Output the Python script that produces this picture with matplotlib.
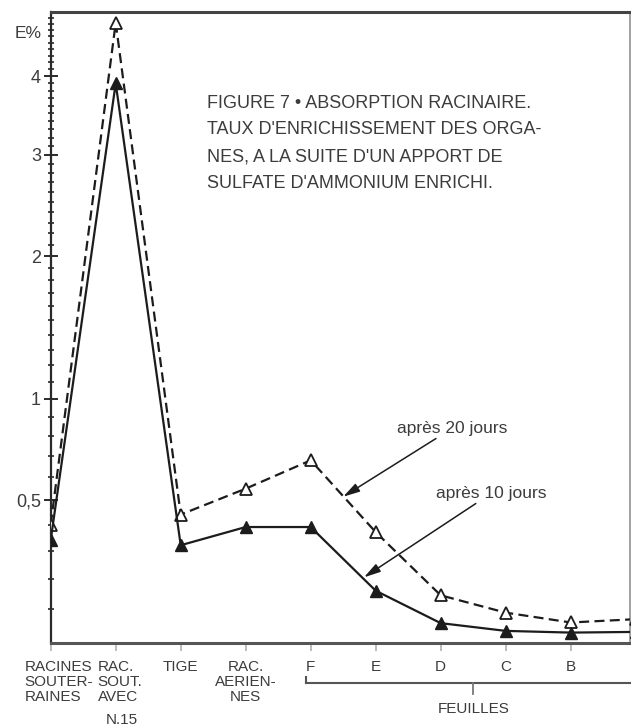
import numpy as np
import matplotlib
matplotlib.use("Agg")
import matplotlib.pyplot as plt
from matplotlib.transforms import blended_transform_factory

plt.rcParams['font.family'] = ['Liberation Sans', 'DejaVu Sans']

# ---- data ----
categories = ["RACINES\nSOUTER-\nRAINES", "RAC.\nSOUT.\nAVEC", "TIGE", "RAC.\nAERIEN-\nNES",
              "F", "E", "D", "C", "B", "A"]
jours20 = [0.40, 4.82, 0.44, 0.55, 0.68, 0.37, 0.145, 0.09, 0.06, 0.07]
jours10 = [0.34, 3.90, 0.32, 0.39, 0.39, 0.16, 0.058, 0.035, 0.03, 0.032]
ytick_vals = [0.5, 1, 2, 3, 4]
ytick_labels = ["0,5", "1", "2", "3", "4"]
title_lines = ["FIGURE 7 \u2022 ABSORPTION RACINAIRE.",
               "TAUX D'ENRICHISSEMENT DES ORGA-",
               "NES, A LA SUITE D'UN APPORT DE",
               "SULFATE D'AMMONIUM ENRICHI."]
label20 = "après 20 jours"
label10 = "après 10 jours"
group_label = "FEUILLES"

W, H = 631, 727
TXT = '#3c3c3c'
LN = '#1c1c1c'

fig = plt.figure(figsize=(W / 100, H / 100), dpi=100)
x0, x1, ytop, ybot = 50.7, 630, 12, 643
ax = fig.add_axes([x0 / W, (H - ybot) / H, (x1 - x0) / W, (ybot - ytop) / H])

ax.set_yscale('function', functions=(lambda v: np.log1p(np.maximum(v, -0.99)),
                                      lambda t: np.expm1(t)))
ax.set_ylim(0, 5.0)
step = 65.0
ax.set_xlim(0, (x1 - x0) / step)

x = np.arange(len(categories))
ax.plot(x, jours20, color=LN, lw=1.6, dashes=(4.5, 2.4), marker='^', ms=8,
        mfc='white', mec=LN, mew=1.3, clip_on=True, zorder=3)
ax.plot(x, jours10, color=LN, lw=1.6, ls='-', marker='^', ms=8,
        mfc=LN, mec=LN, clip_on=True, zorder=3)

# spines
ax.spines['left'].set_color('#2a2a2a')
ax.spines['left'].set_linewidth(1.6)
ax.spines['bottom'].set_linewidth(2.2)
ax.spines['bottom'].set_color('#555555')
ax.spines['top'].set_linewidth(2.2)
ax.spines['top'].set_color('#444444')
ax.spines['right'].set_color('#9a9a9a')
ax.spines['right'].set_linewidth(1.3)

# y ticks
ax.set_yticks(ytick_vals)
ax.set_yticklabels(ytick_labels)
minor = [round(v, 1) for v in np.arange(0.1, 5.0, 0.1) if round(v, 1) not in ytick_vals]
ax.set_yticks(minor, minor=True)
ax.tick_params(axis='y', which='major', direction='inout', length=10, width=1.4,
               colors='#2a2a2a', labelsize=13, labelcolor=TXT, pad=2)
ax.tick_params(axis='y', which='minor', direction='inout', length=5, width=1.2, colors='#2a2a2a')

# x ticks
ax.set_xticks(x[:9])
ax.set_xticklabels([])
ax.tick_params(axis='x', which='major', direction='out', length=6, width=1.2, colors='#b0b0b0')
ax.tick_params(axis='x', which='minor', bottom=False)

def ay(py):
    return (ybot - py) / (ybot - ytop)

bt = blended_transform_factory(ax.transData, ax.transAxes)

# E% label
fig.text(28 / W, 1 - 33 / H, "E%", fontsize=12.5, color=TXT, ha='center', va='center')

# category labels
fs = 11
ls = 1.1
ax.text(0 - 0.40, ay(660), categories[0], transform=bt, ha='left', va='top', fontsize=fs,
        color=TXT, linespacing=ls, clip_on=False)
ax.text(1 - 0.28, ay(660), categories[1], transform=bt, ha='left', va='top', fontsize=fs,
        color=TXT, linespacing=ls, clip_on=False)
ax.text(1.1, ay(720), "N.15", transform=bt, ha='center', va='center', fontsize=fs,
        color=TXT, clip_on=False)
ax.text(2, ay(660), categories[2], transform=bt, ha='center', va='top', fontsize=fs,
        color=TXT, clip_on=False)
ax.text(3, ay(660), categories[3], transform=bt, ha='center', va='top', fontsize=fs,
        color=TXT, linespacing=ls, multialignment='center', clip_on=False)
for i in range(4, 10):
    ax.text(i, ay(667), categories[i], transform=bt, ha='center', va='center',
            fontsize=fs, color=TXT, clip_on=False)

# bracket for leaves
ax.plot([3.92, 9.5], [ay(683), ay(683)], transform=bt, color='#555555', lw=1.5, clip_on=False)
ax.plot([3.92, 3.92], [ay(683), ay(677)], transform=bt, color='#555555', lw=1.5, clip_on=False)
ax.plot([6.5, 6.5], [ay(683), ay(694)], transform=bt, color='#777777', lw=1.3, clip_on=False)
ax.text(6.5, ay(709), group_label, transform=bt, ha='center', va='center', fontsize=fs,
        color=TXT, clip_on=False)

# title block
for k, line in enumerate(title_lines):
    fig.text(207 / W, 1 - (103 + 27 * k) / H, line, fontsize=13, color=TXT,
             ha='left', va='center')

# annotations
ax.annotate(label20, xy=(4.50, 0.515), xytext=(5.33, 0.84), fontsize=12.5, color=TXT,
            ha='left', va='center',
            arrowprops=dict(arrowstyle='-|>,head_length=0.8,head_width=0.22', color=LN, lw=1.1,
                            shrinkA=0, shrinkB=0))
ax.annotate(label10, xy=(4.82, 0.205), xytext=(5.93, 0.53), fontsize=12.5, color=TXT,
            ha='left', va='center',
            arrowprops=dict(arrowstyle='-|>,head_length=0.8,head_width=0.22', color=LN, lw=1.1,
                            shrinkA=0, shrinkB=0))

fig.savefig("out.png", dpi=100, facecolor='white')
